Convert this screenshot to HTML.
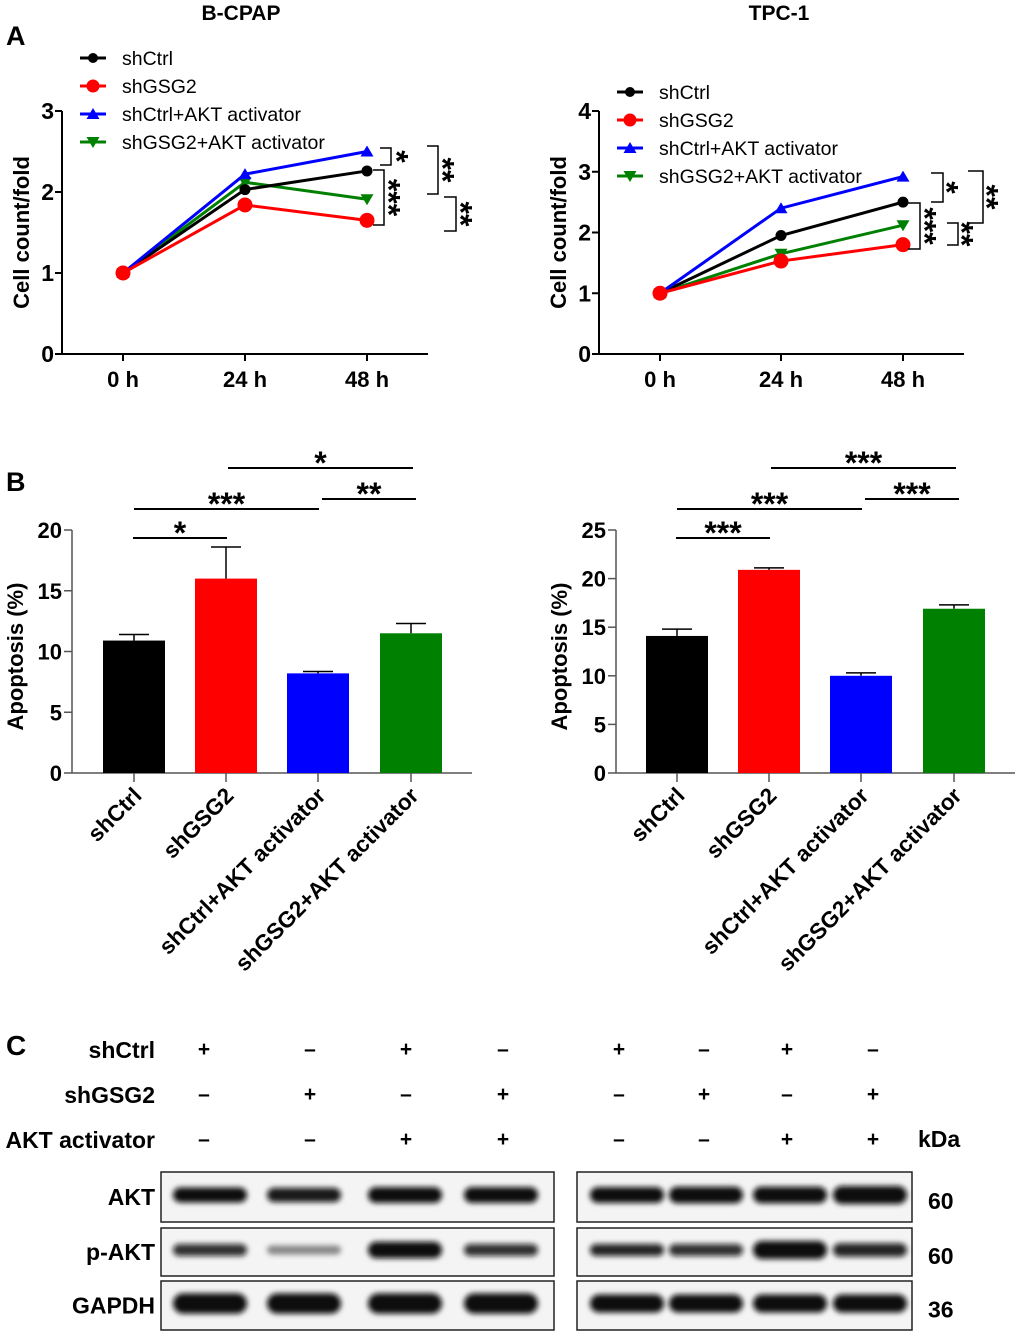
<!DOCTYPE html>
<html><head><meta charset="utf-8"><style>
body{margin:0;background:#fff}
svg{display:block;font-family:"Liberation Sans",sans-serif}
.b{font-weight:bold}
.n{font-family:"Liberation Sans Narrow","Liberation Sans",sans-serif}
</style></head><body>
<svg id="fig" width="1020" height="1335" viewBox="0 0 1020 1335">
<defs><filter id="blur" x="-20%" y="-100%" width="140%" height="300%"><feGaussianBlur stdDeviation="2.6"/></filter></defs>
<text x="241" y="20" text-anchor="middle" class="b" font-size="21">B-CPAP</text>
<text x="779" y="20" text-anchor="middle" class="b" font-size="21">TPC-1</text>
<text x="6" y="45" class="b" font-size="27">A</text>
<text x="6" y="491" class="b" font-size="27">B</text>
<text x="6" y="1055" class="b n" font-size="28">C</text>
<g id="lineL"></g>
<g id="lineR"></g>
<g id="barL"></g>
<g id="barR"></g>
<g id="blot"></g>
</svg>
<script>
const NS="http://www.w3.org/2000/svg";
const timeLabels=["0 h","24 h","48 h"];
const seriesNames=["shCtrl","shGSG2","shCtrl+AKT activator","shGSG2+AKT activator"];
const seriesColors=["#000000","#ff0000","#0000ff","#008000"];
const bcpapCtrl=[1,2.03,2.26];
const bcpapGSG2=[1,1.84,1.65];
const bcpapCtrlAKT=[1,2.22,2.5];
const bcpapGSG2AKT=[1,2.12,1.91];
const tpcCtrl=[1,1.95,2.5];
const tpcGSG2=[1,1.53,1.8];
const tpcCtrlAKT=[1,2.4,2.92];
const tpcGSG2AKT=[1,1.65,2.12];
const lineTicksL=[0,1,2,3];
const lineTicksR=[0,1,2,3,4];
const barCats=["shCtrl","shGSG2","shCtrl+AKT activator","shGSG2+AKT activator"];
const apopBcpap=[10.9,16.0,8.2,11.5];
const apopBcpapErr=[0.5,2.6,0.15,0.8];
const apopTpc=[14.1,20.9,10.0,16.9];
const apopTpcErr=[0.7,0.2,0.3,0.4];
const barTicksL=[0,5,10,15,20];
const barTicksR=[0,5,10,15,20,25];
const STAR=32;

function el(parent,tag,attrs,text){const e=document.createElementNS(NS,tag);for(const k in attrs)e.setAttribute(k,attrs[k]);if(text!==undefined)e.textContent=text;parent.appendChild(e);return e;}

function marker(g,shape,x,y,c,r){
  let m;
  if(shape===0)m=el(g,"circle",{cx:x,cy:y,r:r||5.5,fill:c});
  else if(shape===1)m=el(g,"circle",{cx:x,cy:y,r:r||7.5,fill:c});
  else if(shape===2)m=el(g,"polygon",{points:`${x},${y-6} ${x-6.5},${y+5} ${x+6.5},${y+5}`,fill:c});
  else m=el(g,"polygon",{points:`${x},${y+6} ${x-6.5},${y-5} ${x+6.5},${y-5}`,fill:c});
  
  
}

function lineChart(g,o){
  const ys=v=>o.y0-(v/o.max)*(o.y0-o.yTop);
  const xs=i=>o.xt[i];
  el(g,"line",{x1:o.ax,y1:o.yTop,x2:o.ax,y2:o.y0,stroke:"#000","stroke-width":2});
  el(g,"line",{x1:o.ax,y1:o.y0,x2:o.xEnd,y2:o.y0,stroke:"#000","stroke-width":2});
  o.ticks.forEach(t=>{el(g,"line",{x1:o.ax-7,y1:ys(t),x2:o.ax,y2:ys(t),stroke:"#000","stroke-width":2});
    const tl=el(g,"text",{x:o.ax-8,y:ys(t)+8,"text-anchor":"end","font-size":23,"font-weight":"bold"},t);
    });
  timeLabels.forEach((l,i)=>{el(g,"line",{x1:xs(i),y1:o.y0,x2:xs(i),y2:o.y0+7,stroke:"#000","stroke-width":2});
    const tl=el(g,"text",{x:xs(i),y:o.y0+33,"text-anchor":"middle","font-size":22,"font-weight":"bold"},l);
    });
  const yt=el(g,"text",{transform:`translate(${o.ax-33},${(o.y0+o.yTop)/2}) rotate(-90)`,"text-anchor":"middle","font-size":22,"font-weight":"bold"},"Cell count/fold");
  
  const order=[3,0,2,1];
  order.forEach(s=>{
    const d=o.data[s];
    const pts=d.map((v,i)=>xs(i)+","+ys(v)).join(" ");
    const pl=el(g,"polyline",{points:pts,fill:"none",stroke:seriesColors[s],"stroke-width":3});
    
    d.forEach((v,i)=>marker(g,s,xs(i),ys(v),seriesColors[s]));
  });
  seriesNames.forEach((n,s)=>{
    const y=o.legY+s*28;
    el(g,"line",{x1:o.legX,y1:y,x2:o.legX+26,y2:y,stroke:seriesColors[s],"stroke-width":3});
    marker(g,s,o.legX+13,y,seriesColors[s],s===1?6.5:5);
    const t=el(g,"text",{x:o.legX+42,y:y+7,"font-size":19.5},n);
    
  });
  o.brackets.forEach(b=>{
    el(g,"path",{d:`M${b.x1},${b.y1} H${b.x2} V${b.y2} H${b.x1}`,fill:"none",stroke:"#000","stroke-width":1.5});
    const t=el(g,"text",{transform:`translate(${b.sx-0.55*STAR},${(b.y1+b.y2)/2}) rotate(90)`,"text-anchor":"middle","font-size":STAR,"font-weight":"bold"},b.t);
    
  });
}
lineChart(document.getElementById("lineL"),{ax:62,y0:354,yTop:111,max:3,xEnd:428,xt:[123,245,367],ticks:lineTicksL,
 data:[bcpapCtrl,bcpapGSG2,bcpapCtrlAKT,bcpapGSG2AKT],legX:80,legY:58,
 brackets:[{x1:380,x2:391,y1:148,y2:165,sx:403,t:"*"},{x1:373,x2:384,y1:170,y2:225,sx:395,t:"***"},
  {x1:427,x2:438,y1:146,y2:194,sx:449,t:"**"},{x1:444,x2:456,y1:197,y2:231,sx:467,t:"**"}]});
lineChart(document.getElementById("lineR"),{ax:599,y0:354,yTop:111,max:4,xEnd:964,xt:[660,781,903],ticks:lineTicksR,
 data:[tpcCtrl,tpcGSG2,tpcCtrlAKT,tpcGSG2AKT],legX:617,legY:92,
 brackets:[{x1:931,x2:943,y1:173,y2:202,sx:953,t:"*"},{x1:908,x2:920,y1:203,y2:249,sx:931,t:"***"},
  {x1:947,x2:958,y1:223,y2:245,sx:968,t:"**"},{x1:968,x2:983,y1:171,y2:223,sx:993,t:"**"}]});

function barChart(g,o){
  const ys=v=>o.y0-(v/o.max)*(o.y0-o.yTop);
  el(g,"line",{x1:o.ax,y1:o.yTop,x2:o.ax,y2:o.y0,stroke:"#555","stroke-width":1.5});
  el(g,"line",{x1:o.ax,y1:o.y0,x2:o.xEnd,y2:o.y0,stroke:"#555","stroke-width":1.5});
  o.ticks.forEach(t=>{el(g,"line",{x1:o.ax-8,y1:ys(t),x2:o.ax,y2:ys(t),stroke:"#555","stroke-width":1.5});
    const tl=el(g,"text",{x:o.ax-10,y:ys(t)+8,"text-anchor":"end","font-size":22,"font-weight":"bold"},t);
    });
  const yt=el(g,"text",{transform:`translate(${o.ax-49},${(o.y0+o.yTop)/2+5}) rotate(-90)`,"text-anchor":"middle","font-size":22,"font-weight":"bold"},"Apoptosis (%)");
  
  o.vals.forEach((v,i)=>{
    const cx=o.xc[i], w=62;
    const top=ys(v+o.err[i]);
    el(g,"line",{x1:cx,y1:top,x2:cx,y2:ys(v),stroke:"#000","stroke-width":1.5});
    el(g,"line",{x1:cx-15,y1:top,x2:cx+15,y2:top,stroke:"#000","stroke-width":1.5});
    const r=el(g,"rect",{x:cx-w/2,y:ys(v),width:w,height:o.y0-ys(v),fill:seriesColors[i]});
    
    
    el(g,"line",{x1:cx,y1:o.y0,x2:cx,y2:o.y0+9,stroke:"#555","stroke-width":1.5});
    const t=el(g,"text",{transform:`translate(${cx+9},${o.y0+24}) rotate(-45)`,"text-anchor":"end","font-size":22.5,"font-weight":"bold"},barCats[i]);
    
  });
  o.sig.forEach(s=>{
    el(g,"line",{x1:s.x1,y1:s.y,x2:s.x2,y2:s.y,stroke:"#000","stroke-width":2});
    const t=el(g,"text",{x:(s.x1+s.x2)/2,y:s.y+6,"text-anchor":"middle","font-size":STAR,"font-weight":"bold"},s.t);
    
  });
}
barChart(document.getElementById("barL"),{ax:72,y0:773,yTop:530,max:20,xEnd:472,xc:[134,226,318,411],ticks:barTicksL,vals:apopBcpap,err:apopBcpapErr,
 sig:[{x1:133,x2:227,y:538,t:"*"},{x1:134,x2:319,y:509,t:"***"},{x1:228,x2:413,y:468,t:"*"},{x1:322,x2:416,y:499,t:"**"}]});
barChart(document.getElementById("barR"),{ax:616,y0:773,yTop:530,max:25,xEnd:1015,xc:[677,769,861,954],ticks:barTicksR,vals:apopTpc,err:apopTpcErr,
 sig:[{x1:676,x2:770,y:538,t:"***"},{x1:677,x2:862,y:509,t:"***"},{x1:771,x2:956,y:468,t:"***"},{x1:865,x2:959,y:499,t:"***"}]});

// Western blot
const blot=document.getElementById("blot");
const condRows=[["shCtrl",["+","–","+","–","+","–","+","–"]],["shGSG2",["–","+","–","+","–","+","–","+"]],["AKT activator",["–","–","+","+","–","–","+","+"]]];
const laneX=[204,310,406,503,619,704,787,873];
condRows.forEach((r,i)=>{
  const y=1058+i*45;
  const t=el(blot,"text",{x:155,y:y,"text-anchor":"end","font-size":23,"font-weight":"bold","class":"n"},r[0]);
  
  r[1].forEach((s,j)=>{const c=el(blot,"text",{x:laneX[j],y:y-2,"text-anchor":"middle","font-size":21,"font-weight":"bold","class":"n"},s);
    });
});
el(blot,"text",{x:918,y:1147,"font-size":23,"font-weight":"bold","class":"n"},"kDa");
const bandRows=[["AKT",1172,50,"60",[[1,1],[0.95,0.95],[1,1.05],[1,1.05],[1,1.05],[1,1.1],[1,1.1],[1,1.2]]],
 ["p-AKT",1228,48,"60",[[0.85,0.8],[0.45,0.6],[1,1.1],[0.85,0.8],[0.9,0.8],[0.85,0.8],[1,1.2],[0.9,0.9]]],
 ["GAPDH",1281,49,"36",[[1,1.35],[1,1.35],[1,1.35],[1,1.35],[1,1.2],[1,1.2],[1,1.2],[1,1.2]]]];
const bandX=[210,304,405,501,627,706,790,870];
bandRows.forEach(r=>{
  const [name,y,h,kda,bands]=r;
  el(blot,"rect",{x:161,y:y,width:393,height:h,fill:"#f4f4f4",stroke:"#222","stroke-width":1.5});
  el(blot,"rect",{x:577,y:y,width:335,height:h,fill:"#f4f4f4",stroke:"#222","stroke-width":1.5});
  const t=el(blot,"text",{x:155,y:y+h/2+8,"text-anchor":"end","font-size":23,"font-weight":"bold","class":"n"},name);
  
  el(blot,"text",{x:928,y:y+h/2+12,"font-size":23,"font-weight":"bold","class":"n"},kda);
  bands.forEach((b,j)=>{
    const bh=15*b[1];
    const e=el(blot,"rect",{x:bandX[j]-37,y:y+h/2-bh/2-2,width:74,height:bh,rx:bh/2,fill:"#0a0a0a","fill-opacity":b[0],filter:"url(#blur)"});
    
  });
});
</script>
</body></html>
